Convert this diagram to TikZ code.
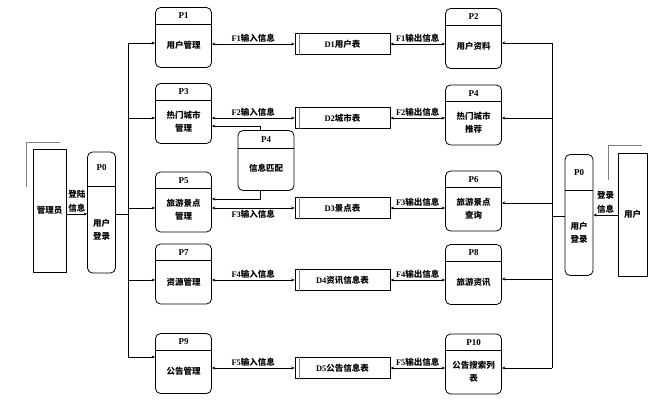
\documentclass[tikz,border=0pt]{standalone}
\usepackage{fontspec}
\setmainfont{Liberation Serif}
\newfontfamily\cjk{Noto Sans CJK SC}
\newcommand\zhtxt[1]{{\cjk #1}}
\usetikzlibrary{calc,arrows.meta}

\tikzset{
	proc/.style={draw, rounded corners=5pt, minimum width=56pt, minimum height=60pt, inner sep=0pt},
	tallproc/.style={draw, rounded corners=5pt, minimum width=28pt, minimum height=121pt, inner sep=0pt},
	entity/.style={draw, minimum height=123pt, inner sep=0pt},
	store/.style={draw, minimum width=95pt, minimum height=21pt, inner sep=0pt, font=\bfseries\fontsize{8.5}{10}\selectfont},
	ptitle/.style={font=\bfseries\fontsize{9}{10}\selectfont, inner sep=0pt},
	ptext/.style={font=\cjk\bfseries\fontsize{8.5}{13}\selectfont, align=center, inner sep=0pt},
	flow/.style={font=\bfseries\fontsize{8.5}{10}\selectfont, inner sep=1.5pt, align=center},
	>={Stealth[length=3.5pt,width=3pt]}
}

\begin{document}
\begin{tikzpicture}[x=1pt, y=-1pt, line width=0.8pt]
\useasboundingbox (0,0) rectangle (664,400);

%% Procesos izquierda y derecha %%
\foreach \n/\p/\x/\y/\t in {p1/P1/183.5/37.5/用户管理, p3/P3/183.5/113.5/{热门城市\\管理},
	p5/P5/183.5/202/{旅游景点\\管理}, p7/P7/183.5/274/资源管理, p9/P9/183.5/363.5/公告管理,
	p2/P2/473.5/38.5/用户资料, p4/P4/473.5/115/{热门城市\\推荐}, p6/P6/473.5/201/{旅游景点\\查询},
	p8/P8/473.5/274.5/旅游资讯, p10/P10/473.5/364/{公告搜索列\\表}}
{
	\node[proc] (\n) at (\x,\y) {};
	\draw ($(\n.north west)+(0,17)$) -- ($(\n.north east)+(0,17)$);
	\node[ptitle] at ($(\n.north)+(0,8.5)$) {\p};
	\node[ptext] at ($(\n.center)+(0,8)$) {\t};
}

%% P4 central %%
\node[proc] (pm) at (266,160.5) {};
\draw ($(pm.north west)+(0,18)$) -- ($(pm.north east)+(0,18)$);
\node[ptitle] at ($(pm.north)+(0,9)$) {P4};
\node[ptext] at ($(pm.center)+(0,8)$) {信息匹配};
\draw[->] ($(pm.north)+(-6,0)$) |- (p3.east |- 0,126);
\draw[->] ($(pm.south)+(-6,0)$) |- (p5.east |- 0,199);

%% Almacenes %%
\foreach \s/\y/\t in {d1/44/用户表, d2/118/城市表, d3/208/景点表, d4/280/资讯信息表, d5/368/公告信息表}
{
	\node[store] (\s) at (342.5,\y) {\MakeUppercase{\s}\zhtxt{\t}};
	\draw[gray, line width=1.3pt] ($(\s.north west)+(5,0)$) -- ($(\s.south west)+(5,0)$);
}

%% Flujos %%
\foreach \l/\s/\r/\k/\a in {p1/d1/p2/1/south, p3/d2/p4/2/south, p5/d3/p6/3/north, p7/d4/p8/4/south, p9/d5/p10/5/south}
{
	\draw[<->] (\l.east |- \s) -- node[flow, anchor=\a] {F\k\zhtxt{输入信息}} (\s.west);
	\draw[<->] (\s.east) -- node[flow, anchor=south] {F\k\zhtxt{输出信息}} (\r.west |- \s);
}

%% Entrada izquierda %%
\node[entity, minimum width=33pt] (admin) at (49.5,210.5) {};
\node[ptext] at (admin.center) {管理员};
\draw[gray, line width=1.2pt] ($(admin.north west)+(-6,38)$) |- ($(admin.north east)+(-6,-6)$);
\node[tallproc] (p0a) at (101.5,212.5) {};
\draw ($(p0a.north west)+(0,35)$) -- ($(p0a.north east)+(0,35)$);
\node[ptitle] at ($(p0a.north)+(0,16)$) {P0};
\node[ptext] at ($(p0a.center)+(0,17)$) {用户\\登录};
\draw[->] (admin.east |- 0,214) -- node[flow, anchor=south, inner sep=1pt, font=\cjk\bfseries\fontsize{8.5}{14}\selectfont] {登陆\\信息} (p0a.west |- 0,214);

%% Entrada derecha %%
\node[entity, minimum width=29pt] (user) at (632.5,214.5) {};
\node[ptext] at (user.center) {用户};
\draw[gray, line width=1.2pt] ($(user.north west)+(-9,27)$) |- ($(user.north east)+(-5,-7)$);
\node[tallproc] (p0b) at (579,215) {};
\draw ($(p0b.north west)+(0,36)$) -- ($(p0b.north east)+(0,36)$);
\node[ptitle] at ($(p0b.north)+(0,18)$) {P0};
\node[ptext] at ($(p0b.center)+(0,18)$) {用户\\登录};
\draw[->] (user.west |- 0,215) -- node[flow, anchor=south, inner sep=1pt, font=\cjk\bfseries\fontsize{8.5}{14}\selectfont] {登录\\信息} (p0b.east |- 0,215);

%% Troncales %%
\coordinate (lt) at (128,43);
\coordinate (rt) at (552,43);
\draw (p0a.east |- 0,214) -- (lt |- 0,214);
\draw (lt) -- (lt |- 0,357);
\foreach \n/\y in {p1/43, p3/118, p5/208, p7/280, p9/357}
	\draw[->] (lt |- 0,\y) -- (\n.west |- 0,\y);
\draw (p0b.west |- 0,216) -- (rt |- 0,216);
\draw (rt) -- (rt |- 0,368);
\foreach \n/\y in {p2/43, p4/118, p6/203, p8/279, p10/368}
	\draw[->] (rt |- 0,\y) -- (\n.east |- 0,\y);
\end{tikzpicture}
\end{document}
